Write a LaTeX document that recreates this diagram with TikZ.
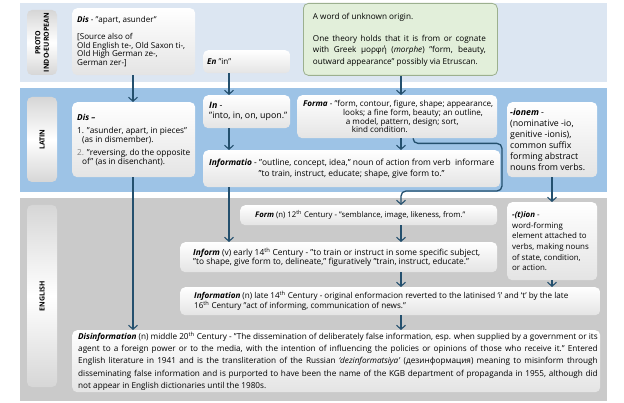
\documentclass[tikz,border=0pt]{standalone}
\usepackage{fontspec}
\setmainfont{Open Sans}
\usetikzlibrary{arrows.meta,calc}
\definecolor{pieband}{HTML}{DCE6F2}
\definecolor{latband}{HTML}{9DC3E6}
\definecolor{engband}{HTML}{CACACA}
\definecolor{greenfill}{HTML}{E2EFDA}
\definecolor{greenline}{HTML}{9CB08F}
\definecolor{arrowc}{HTML}{24506E}
\definecolor{boxgray}{HTML}{E4E4E4}
\newcommand\bi[1]{\textbf{\textit{#1}}}
\newcommand\jl[2]{\hbox to #1{\spaceskip=.26em plus 1fil minus .08em\relax #2}}
\newcommand\bt[3]{\hspace*{#1}\parbox{#2}{\raggedright #3}}
\newlength\fitlen
\newcommand\fitsize[3]{%
  \settowidth\fitlen{\fontsize{10}{12}\selectfont #3}%
  \pgfmathsetmacro\fitfs{10*#1/\fitlen}%
  \fontsize{\fitfs}{#2}\selectfont}
\begin{document}
\begin{tikzpicture}[x=1pt,y=-1pt,
  box/.style={rounded corners=5pt, top color=white, bottom color=boxgray,
    inner sep=0pt, anchor=north west},
  lab/.style={rounded corners=5pt, top color=black!16, bottom color=black!16, middle color=white,
    rotate=90, minimum width=#1, minimum height=30pt, inner sep=1pt, align=center,
    font=\fontsize{7}{8.5}\selectfont\bfseries},
  arr/.style={draw=arrowc, line width=1.3pt, -{Straight Barb[length=4pt,width=9pt,line width=1.1pt]}}
]
\useasboundingbox (0,0) rectangle (624,403);
% bands
\fill[pieband] (20,3) rectangle (607,82);
\fill[latband] (20,88) rectangle (607,192);
\fill[engband] (20,198) rectangle (607,401);
% labels
\node[lab=65pt] (lpie) at (42,42.5) {PROTO\\INDO-EUROPEAN};
\node[lab=85pt] (llat) at (42,139.5) {LATIN};
\node[lab=182pt] (leng) at (42,296) {ENGLISH};
% PIE
\node[box, minimum width=123pt, minimum height=67pt,
  font={\fitsize{108}{8.5}{Old English te-, Old Saxon ti-,}}] (disP) at (72,8)
 {\bt{5pt}{118pt}{\bi{Dis} - "apart, asunder"\\[8.5pt]
  [Source also of\\ Old English te-, Old Saxon ti-,\\ Old High German ze-,\\ German zer-]}};
\node[box, minimum width=87pt, minimum height=23pt,
  font={\fitsize{108}{9}{Old English te-, Old Saxon ti-,}}] (en) at (203,50)
 {\bt{4pt}{83pt}{\bi{En} "in"}};
\node[box, top color=greenfill, bottom color=greenfill, draw=greenline, line width=0.8pt,
  minimum width=194pt, minimum height=72pt,
  font={\fitsize{165}{11.5}{outward appearance" possibly via Etruscan.}}] (green) at (303,3)
 {\bt{9pt}{184pt}{A word of unknown origin.\par\vspace{10.5pt}
  \jl{173pt}{One theory holds that it is from or cognate}
  \jl{173pt}{with Greek μορφή (\textit{morphe}) "form, beauty,}
  outward appearance" possibly via Etruscan.}};
% LATIN
\node[box, minimum width=123pt, minimum height=75pt,
  font={\fitsize{113}{8.7}{2. "reversing, do the opposite}}] (disL) at (72,102)
 {\bt{5pt}{118pt}{\bi{Dis –}\\[5pt]
  1. "asunder, apart, in pieces"\\ \hspace*{5pt}(as in dismember).\\[4.3pt]
  {\color{black!50}2.} "reversing, do the opposite\\ \hspace*{5pt}of" (as in disenchant).}};
\node[box, minimum width=87pt, minimum height=33pt,
  font={\fitsize{78}{10}{"into, in, on, upon."}}] (inL) at (203,95)
 {\bt{6pt}{81pt}{\bi{In} -\\ "into, in, on, upon."}};
\node[box, minimum width=200pt, minimum height=43pt,
  font={\fitsize{190}{8.7}{\bi{Forma} - "form, contour, figure, shape; appearance,}}] (forma) at (297,95)
 {\bt{6pt}{194pt}{\bi{Forma} - "form, contour, figure, shape; appearance,\\
  \hspace*{40pt}looks; a fine form, beauty; an outline,\\
  \hspace*{42.7pt}a model, pattern, design; sort,\\
  \hspace*{48.7pt}kind condition.}};
\node[box, minimum width=297pt, minimum height=37pt,
  font={\fitsize{186}{10.5}{"to train, instruct, educate; shape, give form to."}}] (informatio) at (203,150)
 {\parbox{297pt}{\centering \bi{Informatio} - "outline, concept, idea," noun of action from verb\ \ informare\\
  "to train, instruct, educate; shape, give form to."}};
\node[box, minimum width=90pt, minimum height=75pt,
  font={\fitsize{75}{11}{nouns from verbs.}}] (ionem) at (507,102)
 {\bt{3pt}{87pt}{\bi{-ionem} -\\ (nominative -io,\\ genitive -ionis),\\ common suffix\\ forming abstract\\ nouns from verbs.}};
% ENGLISH
\node[box, minimum width=257pt, minimum height=20pt,
  font={\fitsize{210}{9}{\bi{Form} (n) 12\textsuperscript{th} Century - "semblance, image, likeness, from."}}] (form) at (240,205)
 {\bt{15pt}{242pt}{\bi{Form} (n) 12\textsuperscript{th} Century - "semblance, image, likeness, from."}};
\node[box, minimum width=317pt, minimum height=30pt,
  font={\fitsize{287}{9.5}{\bi{Inform} (v) early 14\textsuperscript{th} Century - "to train or instruct in some specific subject,}}] (inform) at (180,242)
 {\bt{13pt}{304pt}{\bi{Inform} (v) early 14\textsuperscript{th} Century - "to train or instruct in some specific subject,\\
  "to shape, give form to, delineate," figuratively "train, instruct, educate."}};
\node[box, minimum width=90pt, minimum height=78pt,
  font={\fitsize{74.4}{10.6}{element attached to}}] (tion) at (507,202)
 {\bt{5pt}{85pt}{\bi{-(t)ion} -\\ word-forming\\ element attached to\\ verbs, making nouns\\ of state, condition,\\ or action.}};
\node[box, minimum width=420pt, minimum height=28pt,
  font={\fitsize{374}{10}{\bi{Information} (n) late 14\textsuperscript{th} Century - original enformacion reverted to the latinised ‘i’ and ‘t’ by the late}}] (information) at (180,287)
 {\bt{14pt}{406pt}{\bi{Information} (n) late 14\textsuperscript{th} Century - original enformacion reverted to the latinised ‘i’ and ‘t’ by the late\\
  16\textsuperscript{th} Century "act of informing, communication of news."}};
\node[box, minimum width=528pt, minimum height=62pt,
  font={\fitsize{188}{12.2}{not appear in English dictionaries until the 1980s.}}] (disinf) at (72,330)
 {\bt{6pt}{522pt}{\jl{519.5pt}{\bi{Disinformation} (n) middle 20\textsuperscript{th} Century - "The dissemination of deliberately false information, esp. when supplied by a government or its}
  \jl{519.5pt}{agent to a foreign power or to the media, with the intention of influencing the policies or opinions of those who receive it." Entered}
  \jl{519.5pt}{English literature in 1941 and is the transliteration of the Russian \textit{‘dezinformatsiya’} (дезинформация) meaning to misinform through}
  \jl{519.5pt}{disseminating false information and is purported to have been the name of the KGB department of propaganda in 1955, although did}
  not appear in English dictionaries until the 1980s.}};
% connector columns
\coordinate (colA) at (133,0);
\coordinate (colB) at (229,0);
\coordinate (colC) at (401,0);
\coordinate (colD) at (413,0);
\coordinate (colE) at (502,0);
\coordinate (colF) at (552,0);
\coordinate (latbot) at (0,191);
% connectors
\draw[arr] (colA |- disP.south) -- (colA |- disL.north);
\draw[arr] (colB |- en.south) -- (colB |- inL.north);
\draw[arr] (colC |- green.south) -- (colC |- forma.north);
\draw[arr] (colB |- inL.south) -- (colB |- informatio.north);
\draw[arr] (colC |- forma.south) -- (colC |- informatio.north);
\draw[arr, rounded corners=5pt] (colD |- forma.south) -- ($(colD |- forma.south)+(0,5)$)
  -- ($(colE |- forma.south)+(0,5)$) -- (colE |- latbot) -- (colC |- latbot) -- (colC |- form.north);
\draw[arr] (colB |- informatio.south) -- (colB |- inform.north);
\draw[arr] (colA |- disL.south) -- (colA |- disinf.north);
\draw[arr] (colC |- form.south) -- (colC |- inform.north);
\draw[arr] (colC |- inform.south) -- (colC |- information.north);
\draw[arr] (colF |- ionem.south) -- (colF |- tion.north);
\draw[arr] (colF |- tion.south) -- (colF |- information.north);
\draw[arr] (colC |- information.south) -- (colC |- disinf.north);
\end{tikzpicture}
\end{document}
